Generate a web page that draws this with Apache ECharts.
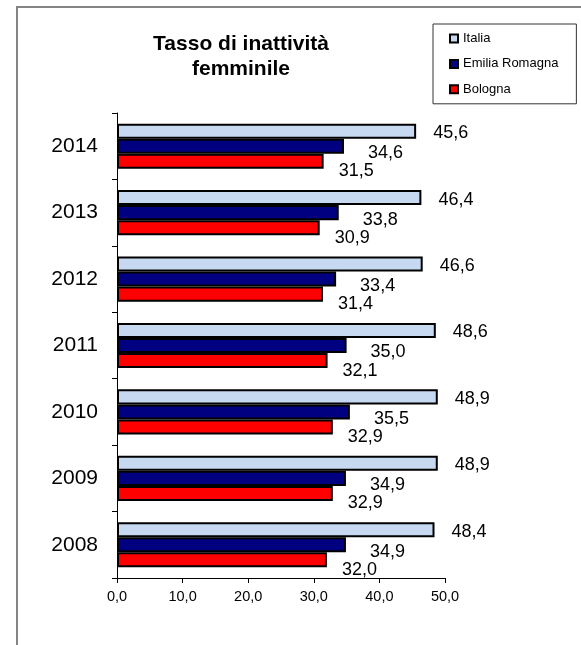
<!DOCTYPE html>
<html>
<head>
<meta charset="utf-8">
<script src="https://cdn.jsdelivr.net/npm/echarts@6/dist/echarts.min.js"></script>
<style>
html,body{margin:0;padding:0;background:#fff;}
#chart{width:581px;height:645px;}
</style>
</head>
<body>
<div id="chart"></div>
<script>
const years = ['2008', '2009', '2010', '2011', '2012', '2013', '2014'];
const italia = [48.4, 48.9, 48.9, 48.6, 46.6, 46.4, 45.6];
const emilia = [34.9, 34.9, 35.5, 35.0, 33.4, 33.8, 34.6];
const bologna = [32.0, 32.9, 32.9, 32.1, 31.4, 30.9, 31.5];
const seriesNames = ['Italia', 'Emilia Romagna', 'Bologna'];
const titleText = 'Tasso di inattività\nfemminile';

const FONT = '"Liberation Sans", Arial, sans-serif';
const fmt = v => Number(v).toFixed(1).replace('.', ',');

function mkSeries(name, data, color, dist, dy) {
  return {
    name: name,
    type: 'bar',
    data: data,
    barGap: '0%',
    barCategoryGap: '32%',
    itemStyle: { color: color, borderColor: '#000', borderWidth: 2 },
    label: {
      show: true,
      position: 'right',
      distance: dist,
      offset: [0, dy],
      formatter: p => fmt(p.value),
      fontFamily: FONT,
      fontSize: 18,
      color: '#000'
    },
    emphasis: { disabled: true }
  };
}

const chart = echarts.init(document.getElementById('chart'), null, { renderer: 'canvas' });
chart.setOption({
  animation: false,
  backgroundColor: '#fff',
  title: {
    text: titleText,
    left: 241,
    top: 32,
    padding: 0,
    textAlign: 'center',
    textStyle: { fontFamily: FONT, fontSize: 21, fontWeight: 'bold', color: '#000', lineHeight: 25 }
  },
  legend: {
    data: seriesNames,
    orient: 'vertical',
    left: 433,
    top: 24,
    padding: [8, 18, 8, 16],
    itemGap: 12.4,
    itemWidth: 8,
    itemHeight: 8,
    icon: 'rect',
    borderColor: '#333',
    borderWidth: 1,
    itemStyle: { borderColor: '#000', borderWidth: 2 },
    textStyle: { fontFamily: FONT, fontSize: 13, color: '#000' },
    selectedMode: false
  },
  graphic: [{
    type: 'rect',
    silent: true,
    shape: { x: 17, y: 7, width: 700, height: 700 },
    style: { fill: 'none', stroke: '#858585', lineWidth: 2 }
  }],
  grid: { left: 117, right: 136, top: 113, bottom: 67, containLabel: false },
  xAxis: {
    type: 'value',
    min: 0,
    max: 50,
    interval: 10,
    axisLine: { show: true, lineStyle: { color: '#000', width: 1 } },
    axisTick: { show: true, length: 5, lineStyle: { color: '#000' } },
    splitLine: { show: false },
    axisLabel: { fontFamily: FONT, fontSize: 14.5, color: '#000', margin: 11, formatter: v => fmt(v) }
  },
  yAxis: {
    type: 'category',
    data: years,
    axisLine: { show: true, lineStyle: { color: '#000', width: 1 } },
    axisTick: { show: true, length: 5, lineStyle: { color: '#000' } },
    axisLabel: { fontFamily: FONT, fontSize: 21, color: '#000', margin: 19 }
  },
  series: [
    mkSeries(seriesNames[0], italia, '#C6D9F0', 17, 2),
    mkSeries(seriesNames[1], emilia, '#000080', 24, 7),
    mkSeries(seriesNames[2], bologna, '#FF0000', 15, 10)
  ]
});
</script>
</body>
</html>
